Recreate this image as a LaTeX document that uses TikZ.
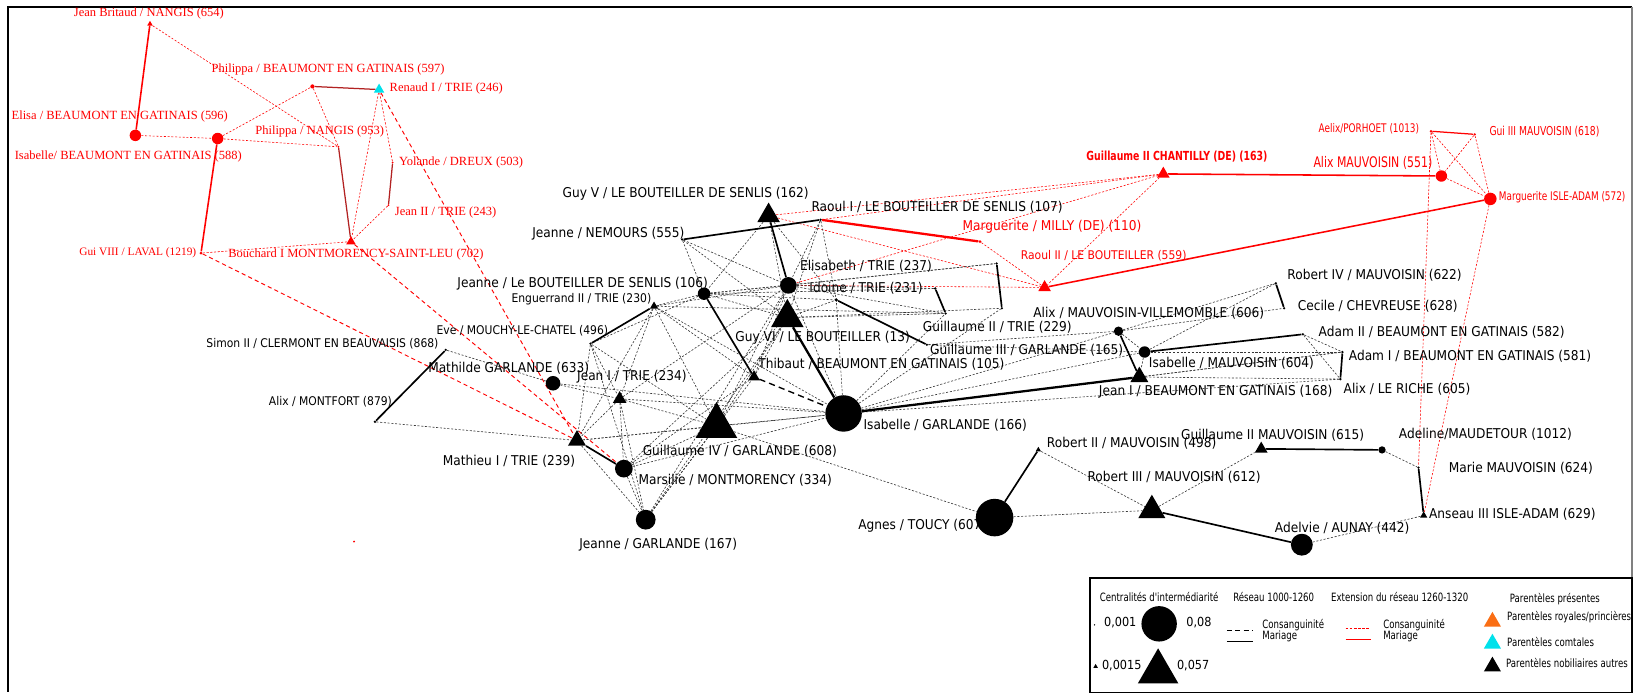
\documentclass[tikz,border=0pt]{standalone}
\usepackage{fontspec}
\usetikzlibrary{shapes.geometric,backgrounds}
\newfontfamily\labf{DejaVu Sans}[FakeStretch=0.9]
\newfontfamily\narf{DejaVu Sans}[FakeStretch=0.75]
\newfontfamily\serf{Liberation Serif}
\definecolor{dred}{RGB}{178,34,34}
\definecolor{cons}{RGB}{55,55,55}
\definecolor{cyanT}{RGB}{0,225,235}
\definecolor{orangeT}{RGB}{250,110,20}
\begin{document}
\begin{tikzpicture}[x=1pt,y=-1pt,
 lab/.style={font=\labf\fontsize{13}{13}\selectfont, inner sep=0pt, anchor=west},
 slab/.style={font=\labf\fontsize{11.5}{11.5}\selectfont, inner sep=0pt, anchor=west},
 rlab/.style={font=\labf\fontsize{#1}{#1}\selectfont, inner sep=0pt, anchor=west, text=red},
 rnar/.style={font=\narf\fontsize{#1}{#1}\selectfont, inner sep=0pt, anchor=west, text=red},
 rser/.style={font=\serf\fontsize{12}{12}\selectfont, inner sep=0pt, anchor=west, text=red},
 leg/.style={font=\narf\fontsize{11}{11}\selectfont, inner sep=0pt},
 legn/.style={font=\labf\fontsize{12}{12}\selectfont, inner sep=0pt, anchor=west},
 ndot/.style={circle, fill, draw=none, inner sep=0pt, minimum size=#1},
 ntri/.style={regular polygon, regular polygon sides=3, fill, draw=none, inner sep=0pt, minimum size=#1},
 npt/.style={circle, fill, draw=none, inner sep=0pt, minimum size=2.5},
 cg/.style={cons, line width=0.6pt, dash pattern=on 2pt off 1.6pt},
 mg/.style={black, line width=1.6pt},
 rcg/.style={red, line width=0.55pt, dash pattern=on 2pt off 1.6pt},
 rmg/.style={red, line width=1.5pt},
 dmg/.style={dred, line width=1.2pt},
 rdl/.style={red, line width=0.9pt, dash pattern=on 4pt off 3pt},
 bdl/.style={black, line width=1.3pt, dash pattern=on 6pt off 4pt},
]
\useasboundingbox (0,0) rectangle (1568,666);
% frame
\draw[line width=2pt] (7.7,664) -- (7.7,6.7) -- (1567,6.7);
\draw[line width=1pt, gray] (1567,6.7) -- (1567,554);

% ---------- labels ----------
\node[rser, anchor=center] (jbL) at (143,13) {Jean Britaud / NANGIS (654)};
\node[rser] (phbL) at (203,67) {Philippa / BEAUMONT EN GATINAIS (597)};
\node[rser] (renL) at (374,85) {Renaud I / TRIE (246)};
\node[rser] (eliL) at (11,112) {Elisa / BEAUMONT EN GATINAIS (596)};
\node[rser] (isbL) at (14,150) {Isabelle/ BEAUMONT EN GATINAIS (588)};
\node[rser] (phnL) at (245,126) {Philippa / NANGIS (953)};
\node[rser] (yolL) at (383,156) {Yolande / DREUX (503)};
\node[rser] (j2tL) at (379,204) {Jean II / TRIE (243)};
\node[rser] (bouL) at (219,244) {Bouchard I MONTMORENCY-SAINT-LEU (702)};
\node[rser, font=\serf\fontsize{10.9}{10.9}\selectfont] (gui8L) at (76,243) {Gui VIII / LAVAL (1219)};

\node[lab] (gvL) at (540,186) {Guy V / LE BOUTEILLER DE SENLIS (162)};
\node[lab] (r1L) at (779,199) {Raoul I / LE BOUTEILLER DE SENLIS (107)};
\node[lab] (jnemL) at (511,224) {Jeanne / NEMOURS (555)};
\node[rlab=13] (milL) at (924,218) {Marguerite / MILLY (DE) (110)};
\node[lab] (elisL) at (768,256) {Elisabeth / TRIE (237)};
\node[lab] (jlbL) at (439,272) {Jeanne / Le BOUTEILLER DE SENLIS (106)};
\node[slab] (engL) at (491,287) {Enguerrand II / TRIE (230)};
\node[lab] (idoL) at (777,277) {Idoine / TRIE (231)};
\node[lab] (gviL) at (706,324) {Guy VI / LE BOUTEILLER (13)};
\node[slab] (eveL) at (419,318) {Eve / MOUCHY-LE-CHATEL (496)};
\node[slab] (simL) at (198,330) {Simon II / CLERMONT EN BEAUVAISIS (868)};
\node[slab] (amfL) at (258,386) {Alix / MONTFORT (879)};
\node[lab] (matL) at (411,354) {Mathilde GARLANDE (633)};
\node[lab] (j1tL) at (554,362) {Jean I / TRIE (234)};
\node[lab] (thiL) at (728,350) {Thibaut / BEAUMONT EN GATINAIS (105)};
\node[lab] (g4L) at (617,433) {Guillaume IV / GARLANDE (608)};
\node[lab] (mt1L) at (425,443) {Mathieu I / TRIE (239)};
\node[lab] (marL) at (613,461) {Marsilie / MONTMORENCY (334)};
\node[lab] (jgL) at (556,523) {Jeanne / GARLANDE (167)};
\node[lab] (igL) at (829,408) {Isabelle / GARLANDE (166)};
\node[lab] (g2tL) at (886,314) {Guillaume II / TRIE (229)};
\node[lab] (g3gL) at (893,336) {Guillaume III / GARLANDE (165)};
\node[rlab=11.5] (rao2L) at (980,246) {Raoul II / LE BOUTEILLER (559)};
\node[rnar=12, font=\narf\bfseries\fontsize{12}{12}\selectfont] (chanL) at (1043,150) {Guillaume II CHANTILLY (DE) (163)};
\node[rnar=14] (amvL) at (1261,156) {Alix MAUVOISIN (551)};
\node[rnar=11.4] (aepL) at (1266,124) {Aelix/PORHOET (1013)};
\node[rnar=11.8] (g3mL) at (1430,126) {Gui III MAUVOISIN (618)};
\node[rnar=11.4] (miaL) at (1439,189) {Marguerite ISLE-ADAM (572)};
\node[lab] (amvvL) at (992,301) {Alix / MAUVOISIN-VILLEMOMBLE (606)};
\node[lab] (imvL) at (1103,349) {Isabelle / MAUVOISIN (604)};
\node[lab] (j1bL) at (1055,376) {Jean I / BEAUMONT EN GATINAIS (168)};
\node[lab] (r4L) at (1236,264) {Robert IV / MAUVOISIN (622)};
\node[lab] (cecL) at (1246,294) {Cecile / CHEVREUSE (628)};
\node[lab] (a2L) at (1266,319) {Adam II / BEAUMONT EN GATINAIS (582)};
\node[lab] (a1L) at (1295,342) {Adam I / BEAUMONT EN GATINAIS (581)};
\node[lab] (alrL) at (1290,374) {Alix / LE RICHE (605)};
\node[lab] (r2L) at (1005,426) {Robert II / MAUVOISIN (498)};
\node[lab] (agnL) at (824,505) {Agnes / TOUCY (607)};
\node[lab] (r3L) at (1044,458) {Robert III / MAUVOISIN (612)};
\node[lab] (g2mL) at (1134,418) {Guillaume II MAUVOISIN (615)};
\node[lab] (adeL) at (1343,417) {Adeline/MAUDETOUR (1012)};
\node[lab] (mmL) at (1391,450) {Marie MAUVOISIN (624)};
\node[lab] (ansL) at (1372,494) {Anseau III ISLE-ADAM (629)};
\node[lab] (advL) at (1224,507) {Adelvie / AUNAY (442)};

% ---------- shapes ----------
\node[ntri=6, red] (jb) at (144,23) {};
\node[ndot=4, red] (phb) at (300,83) {};
\node[ntri=11.5, fill=cyanT] (ren) at (364,86) {};
\node[ndot=11, red] (eli) at (130,130) {};
\node[ndot=11, red] (isb) at (209,133) {};
\node[ndot=2, red] (phn) at (325,141) {};
\node[ndot=2, red] (yol) at (377,156) {};
\node[ndot=2, red] (j2t) at (373,197) {};
\node[ntri=10.5, red] (bou) at (337,232) {};
\node[ndot=3, red] (gui8) at (193,243) {};
\node[ndot=2, red] (stray) at (340,520) {};

\node[ntri=25] (gv) at (738,207) {};
\node[npt] (r1) at (788,211) {};
\node[npt] (jnem) at (655,230) {};
\node[ndot=3, red] (mil) at (941,232) {};
\node[ndot=16] (elis) at (757,274) {};
\node[ndot=12] (jlb) at (676,282) {};
\node[ntri=9] (eng) at (628,294) {};
\node[ndot=3.5] (ido) at (803,288) {};
\node[ntri=36] (gvi) at (756,305) {};
\node[npt] (eve) at (567,330) {};
\node[npt] (sim) at (428,336) {};
\node[npt] (amf) at (360,405) {};
\node[ndot=14] (mat) at (531,368) {};
\node[ntri=15] (j1t) at (595,383) {};
\node[ntri=13] (thi) at (724,362) {};
\node[ntri=46] (g4) at (688,409) {};
\node[ntri=20] (mt1) at (554,423) {};
\node[ndot=17] (mar) at (599,450) {};
\node[ndot=19] (jg) at (620,499) {};
\node[ndot=35] (ig) at (810,397) {};
\node[npt] (g2t) at (908,301) {};
\node[npt] (g2tp) at (898,277) {};
\node[npt] (brA) at (957,253) {};
\node[npt] (brB) at (962,296) {};
\node[npt] (g3g) at (890,331) {};
\node[ntri=14, red] (rao2) at (1003,276) {};
\node[ntri=14, red] (chan) at (1117,167) {};
\node[ndot=11, red] (amv) at (1384,169) {};
\node[npt, red] (aep) at (1374,126) {};
\node[npt, red] (g3m) at (1416,129) {};
\node[ndot=12, red] (mia) at (1431,191) {};
\node[ndot=9] (amvv) at (1074,318) {};
\node[ndot=11] (imv) at (1099,338) {};
\node[ntri=20] (j1b) at (1094,362) {};
\node[npt] (r4) at (1225,272) {};
\node[npt] (cec) at (1233,296) {};
\node[npt] (a2) at (1251,321) {};
\node[npt] (a1) at (1289,338) {};
\node[npt] (alr) at (1287,364) {};
\node[ntri=6] (r2) at (997,432) {};
\node[ndot=36] (agn) at (955,497) {};
\node[ntri=30] (r3) at (1106,490) {};
\node[ntri=14] (g2m) at (1211,431) {};
\node[ndot=7] (ade) at (1327,432) {};
\node[npt] (mm) at (1362,449) {};
\node[ntri=8] (ans) at (1367,495) {};
\node[ndot=21] (adv) at (1250,523) {};

% ---------- connectors ----------
\begin{scope}[on background layer]
\draw[rmg] (jb) -- (eli);
\draw[rmg] (isb) -- (gui8);
\draw[dmg] (phb) -- (ren);
\draw[dmg] (phn) -- (bou);
\draw[dmg] (yol) -- (j2t);
\foreach \a/\b in {jb/phn, eli/isb, isb/phb, isb/phn, phb/phn, ren/bou, ren/yol, j2t/bou, gui8/bou,
  chan/gv, chan/elis, chan/rao2, gv/rao2, elis/rao2, mil/rao2, r1/chan,
  aep/amv, aep/mia, g3m/amv, g3m/mia, amv/mia, aep/mm, mia/ans}
  \draw[rcg] (\a) -- (\b);
\foreach \a/\b in {gui8/mt1, bou/mar, ren/mt1}
  \draw[rdl] (\a) -- (\b);
\draw[rmg, line width=2.2pt] (r1) -- (mil);
\draw[rmg] (chan) -- (amv);
\draw[rmg] (rao2) -- (mia);
\draw[rmg, line width=1.2pt] (aep) -- (g3m);
\foreach \a/\b in {jnem/jlb, jnem/gvi, jnem/elis, gv/jlb, gv/gvi, gv/ido, r1/elis, r1/gvi, r1/ido,
  jlb/elis, jlb/gvi, jlb/ido, jlb/eve, jlb/eng, jlb/brA, jlb/g2tp,
  eng/elis, eng/j1t, eng/mt1, eng/g4, eng/g2t, eng/ig, eng/thi,
  eve/j1t, eve/mt1, eve/g4, eve/jg,
  mat/j1t, mat/ig, sim/mat, amf/mt1,
  j1t/mt1, j1t/mar, j1t/jg, j1t/g4, j1t/ig, j1t/elis,
  mt1/g4, mt1/jg, mt1/ig,
  mar/jg, mar/g4, mar/ig, mar/thi, mar/gvi,
  jg/g4, jg/thi, jg/gvi, jg/elis,
  g4/ig, g4/agn, g4/gvi, g4/elis,
  ig/elis, ig/ido, ig/brB, ig/g2t, ig/amvv, ig/imv, ig/a1, ig/alr,
  elis/brA, elis/g2tp, elis/g2t, gvi/brB, gvi/g2t, gvi/ido, thi/elis, thi/gvi,
  g3g/amvv, g3g/imv,
  amvv/r4, amvv/cec, amvv/imv, imv/r4, imv/a1, imv/j1b, a2/a1, a2/alr, j1b/a1, j1b/alr,
  r2/r3, agn/r3, r3/g2m, ade/mm, adv/ans}
  \draw[cg] (\a) -- (\b);
\foreach \a/\b in {jnem/r1, gv/elis, jlb/thi, ido/g3g, eng/eve, sim/amf, mt1/mar, g2tp/g2t, brA/brB,
  amvv/j1b, imv/a2, r4/cec, a1/alr, agn/r2, r3/adv, g2m/ade, mm/ans}
  \draw[mg] (\a) -- (\b);
\draw[mg, line width=2.2pt] (gvi) -- (ig);
\draw[mg, line width=2.2pt] (ig) -- (j1b);
\draw[bdl] (thi) -- (ig);
\end{scope}

% ---------- legend ----------
\node[draw, line width=1.5pt, fill=white, minimum width=520, minimum height=110, anchor=north west, inner sep=0pt] (legend) at (1046,554) {};
\node[leg] (lgT1) at (1113,573) {Centralités d'intermédiarité};
\node[ndot=34] (lgC) at (1113,599) {};
\node[ndot=1.5] (lgc0) at (1051,600) {};
\node[legn] (lgn1) at (1060,598) {0,001};
\node[legn] (lgn2) at (1139,598) {0,08};
\node[ntri=45] (lgTr) at (1112,645) {};
\node[ntri=5] (lgt0) at (1052,640) {};
\node[legn] (lgn3) at (1058,639) {0,0015};
\node[legn] (lgn4) at (1130,639) {0,057};
\node[leg] (lgT2) at (1223,573) {Réseau 1000-1260};
\coordinate (lk1a) at (1178,605); \coordinate (lk1b) at (1203,605);
\coordinate (lk2a) at (1178,616); \coordinate (lk2b) at (1203,616);
\draw[black, line width=0.9pt, dash pattern=on 5pt off 3pt] (lk1a) -- (lk1b);
\draw[black, line width=1.5pt] (lk2a) -- (lk2b);
\node[leg, anchor=west] (lgc1) at (1212,600) {Consanguinité};
\node[leg, anchor=west] (lgm1) at (1212,611) {Mariage};
\node[leg] (lgT3) at (1344,573) {Extension du réseau 1260-1320};
\coordinate (lk3a) at (1292,603); \coordinate (lk3b) at (1316,603);
\coordinate (lk4a) at (1292,614); \coordinate (lk4b) at (1316,614);
\draw[red, line width=0.7pt, dash pattern=on 2.5pt off 1.5pt] (lk3a) -- (lk3b);
\draw[red, line width=1.5pt] (lk4a) -- (lk4b);
\node[leg, anchor=west] (lgc2) at (1328,600) {Consanguinité};
\node[leg, anchor=west] (lgm2) at (1328,611) {Mariage};
\node[leg] (lgT4) at (1493,575) {Parentèles présentes};
\node[ntri=19, fill=orangeT] (lgo) at (1433,597) {};
\node[leg, anchor=west] (lgp1) at (1447,593) {Parentèles royales/princières};
\node[ntri=19, fill=cyanT] (lgcy) at (1433,618) {};
\node[leg, anchor=west] (lgp2) at (1447,616) {Parentèles comtales};
\node[ntri=19, fill=black] (lgbk) at (1433,640) {};
\node[leg, anchor=west] (lgp3) at (1446,637) {Parentèles nobiliaires autres};
\end{tikzpicture}
\end{document}
